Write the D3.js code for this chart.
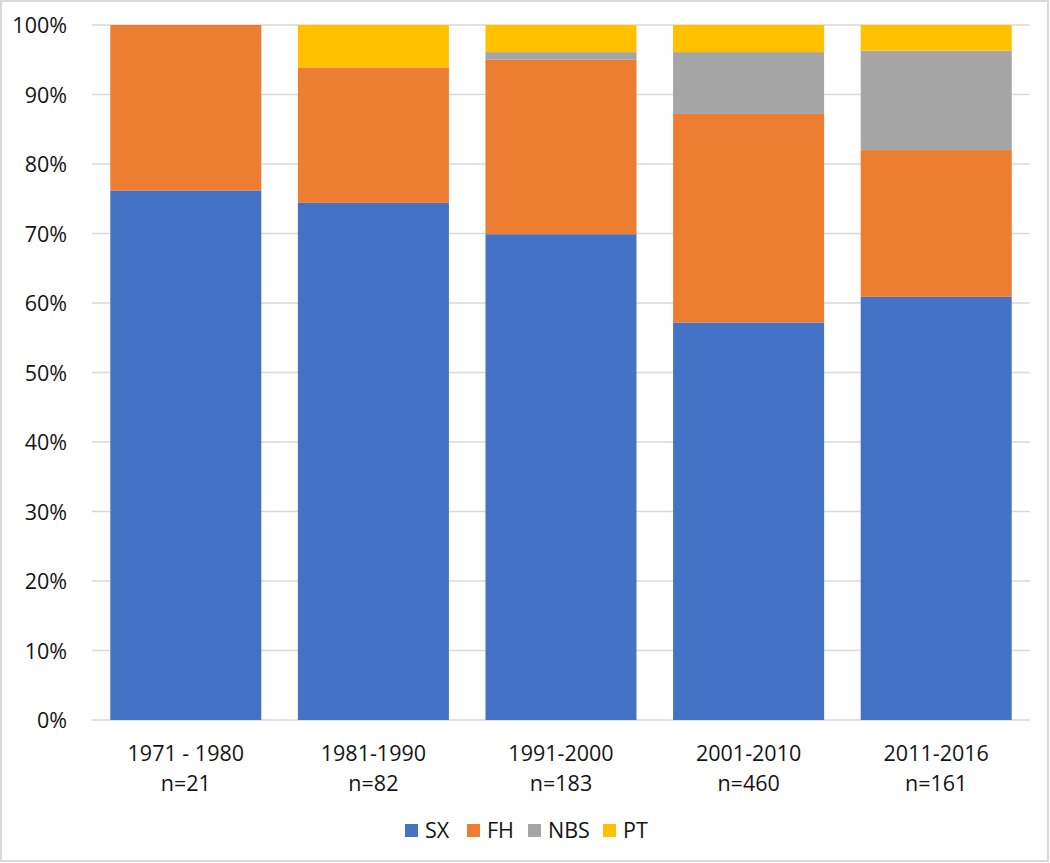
<!DOCTYPE html>
<html>
<head>
<meta charset="utf-8">
<script src="https://cdn.jsdelivr.net/npm/d3@7"></script>
<style>
  body { margin: 0; background: #fff; }
  svg text { font-family: "Open Sans", "Noto Sans", sans-serif; fill: #141414; }
</style>
</head>
<body>
<div id="graphe"></div>
<script>
// donnees (en %)
const periodes = ["1971 - 1980", "1981-1990", "1991-2000", "2001-2010", "2011-2016"];
const effectifs = ["n=21", "n=82", "n=183", "n=460", "n=161"];
const series = ["SX", "FH", "NBS", "PT"];
const valSX  = [76.2, 74.4, 69.9, 57.2, 60.9];
const valFH  = [23.8, 19.5, 25.1, 30.0, 21.1];
const valNBS = [0, 0, 1.1, 8.9, 14.3];
const valPT  = [0, 6.1, 3.9, 3.9, 3.7];
const ticksY = [0, 10, 20, 30, 40, 50, 60, 70, 80, 90, 100];
const couleurs = ["#4472C4", "#ED7D31", "#A5A5A5", "#FFC000"];

const W = 1050, H = 863;
const taille = 21.5;
const svg = d3.select("#graphe").append("svg")
  .attr("width", W).attr("height", H);

// cadre du graphique
svg.append("rect")
  .attr("x", 1).attr("y", 1).attr("width", W - 3).attr("height", H - 3)
  .attr("fill", "#fff").attr("stroke", "#D9D9D9").attr("stroke-width", 2);

const gauche = 92, droite = 1030, haut = 25, bas = 720;

const x = d3.scaleBand().domain(periodes).range([gauche, droite])
  .paddingInner(0.195).paddingOuter(0.0975);
const y = d3.scaleLinear().domain([0, 100]).range([bas, haut]);

// grille
svg.append("g").selectAll("line").data(ticksY).join("line")
  .attr("x1", gauche).attr("x2", droite)
  .attr("y1", d => y(d)).attr("y2", d => y(d))
  .attr("stroke", "#D9D9D9").attr("stroke-width", 1.3);

// axe Y
const axeY = svg.append("g").attr("transform", "translate(" + (gauche - 25) + ",0)")
  .call(d3.axisLeft(y).tickValues(ticksY).tickFormat(d => d + "%").tickSize(0));
axeY.select(".domain").remove();
axeY.selectAll("text").attr("font-size", taille).attr("dy", "0.35em").attr("x", 0);

// empilement
const table = periodes.map((p, i) => ({
  periode: p, SX: valSX[i], FH: valFH[i], NBS: valNBS[i], PT: valPT[i]
}));
const pile = d3.stack().keys(series)(table);

svg.append("g").selectAll("g").data(pile).join("g")
  .attr("fill", (d, i) => couleurs[i])
  .selectAll("rect").data(d => d).join("rect")
  .attr("x", d => x(d.data.periode))
  .attr("width", x.bandwidth())
  .attr("y", d => y(d[1]))
  .attr("height", d => y(d[0]) - y(d[1]));

// etiquettes des categories
const etiq = svg.append("g").selectAll("text").data(periodes).join("text")
  .attr("text-anchor", "middle")
  .attr("font-size", taille);
etiq.append("tspan").attr("x", d => x(d) + x.bandwidth() / 2).attr("y", 761).text(d => d);
etiq.append("tspan").attr("x", d => x(d) + x.bandwidth() / 2).attr("y", 791)
  .text((d, i) => effectifs[i]);

// legende
const posLeg = [405, 467, 528, 603];
const leg = svg.append("g").selectAll("g").data(series).join("g")
  .attr("transform", (d, i) => "translate(" + posLeg[i] + ",824)");
leg.append("rect").attr("width", 13).attr("height", 13)
  .attr("fill", (d, i) => couleurs[i]);
leg.append("text").attr("x", 20).attr("y", 6.5).attr("dy", "0.35em")
  .attr("font-size", taille).text(d => d);
</script>
</body>
</html>
